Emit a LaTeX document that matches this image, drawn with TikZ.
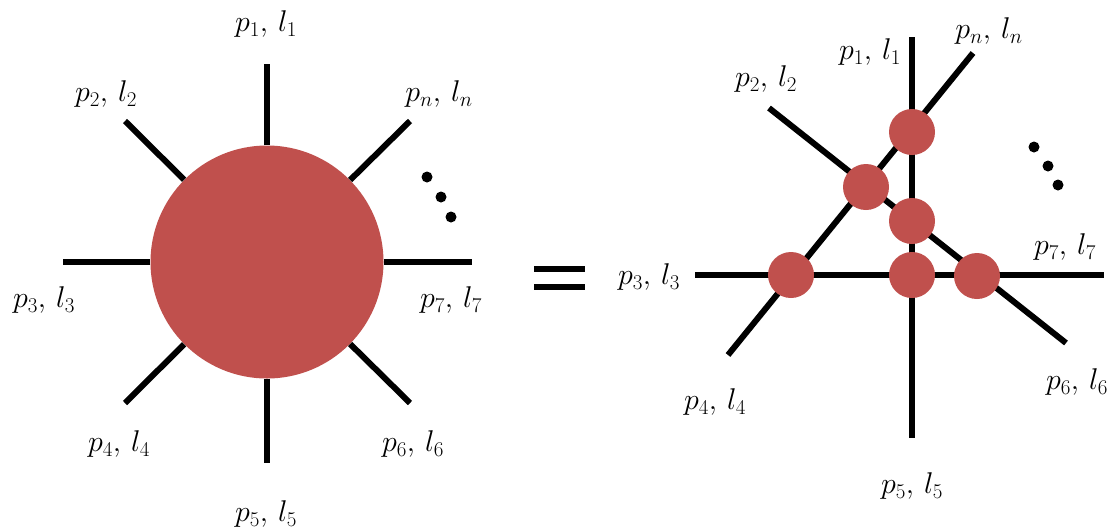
\RequirePackage{fix-cm}
\documentclass[tikz,border=0pt]{standalone}
\definecolor{blobred}{RGB}{192,80,77}
\tikzset{
  leg/.style={line width=6pt, black},
  eqbar/.style={line width=5.5pt, black},
  blob/.style={circle, fill=blobred, draw=none, inner sep=0pt, minimum size=#1},
  lbl/.style={font=\fontsize{30}{36}\selectfont, inner sep=0pt},
  dotmark/.style={circle, fill=black, inner sep=0pt, minimum size=11pt},
}
\newcommand{\pl}[2]{$p_{#1},\, l_{#2}$}
\begin{document}
\begin{tikzpicture}[x=1pt,y=-1pt]
\useasboundingbox (0,0) rectangle (1114,531);

% ---------- left diagram ----------
\node[blob=233pt] (B) at (267,262) {};
\coordinate (a1) at (267,64);
\coordinate (a5) at (267,463);
\coordinate (a3) at (63,262);
\coordinate (a7) at (472,262);
\coordinate (a2) at (125,121);
\coordinate (an) at (410,121);
\coordinate (a4) at (125,403);
\coordinate (a6) at (410,403);
\foreach \e in {a1,a2,a3,a4,a5,a6,a7,an} \draw[leg] (B) -- (\e);

\node[lbl] (L1) at (266,24) {\pl{1}{1}};
\node[lbl] (L2) at (106,94) {\pl{2}{2}};
\node[lbl] (Ln) at (439,94) {\pl{n}{n}};
\node[lbl] (L3) at (44,300) {\pl{3}{3}};
\node[lbl] (L7) at (451,300) {\pl{7}{7}};
\node[lbl] (L4) at (119,444) {\pl{4}{4}};
\node[lbl] (L6) at (413,444) {\pl{6}{6}};
\node[lbl] (L5) at (266,514) {\pl{5}{5}};

\node[dotmark] (d1) at (427,177) {};
\node[dotmark] (d2) at (441,197) {};
\node[dotmark] (d3) at (451,217) {};

% ---------- equals ----------
\coordinate (eqa) at (534,269);
\coordinate (eqb) at (585,269);
\coordinate (eqc) at (534,287);
\coordinate (eqd) at (585,287);
\draw[eqbar] (eqa) -- (eqb);
\draw[eqbar] (eqc) -- (eqd);

% ---------- right diagram ----------
\coordinate (r1) at (912,37);
\coordinate (r5) at (912,438);
\coordinate (r3) at (695,275);
\coordinate (r7) at (1104,275);
\coordinate (rn) at (973,53);
\coordinate (r4) at (728,355);
\coordinate (r2) at (769,108);
\coordinate (r6) at (1066,343);
\draw[leg] (r1) -- (r5);
\draw[leg] (r3) -- (r7);
\draw[leg] (rn) -- (r4);
\draw[leg] (r2) -- (r6);

\node[blob=46pt] (vT) at (912,132) {};
\node[blob=46pt] (vML) at (866,187) {};
\node[blob=46pt] (vM) at (912,221) {};
\node[blob=46pt] (vL) at (791,275) {};
\node[blob=46pt] (vB) at (912,275) {};
\node[blob=46pt] (vR) at (977,276) {};

\node[lbl] (R1) at (870,52) {\pl{1}{1}};
\node[lbl] (Rn) at (989,31) {\pl{n}{n}};
\node[lbl] (R2) at (766,79) {\pl{2}{2}};
\node[lbl] (R3) at (649,277) {\pl{3}{3}};
\node[lbl] (R7) at (1065,247) {\pl{7}{7}};
\node[lbl] (R4) at (715,402) {\pl{4}{4}};
\node[lbl] (R6) at (1077,382) {\pl{6}{6}};
\node[lbl] (R5) at (912,486) {\pl{5}{5}};

\node[dotmark] (e1) at (1034,147) {};
\node[dotmark] (e2) at (1048,166) {};
\node[dotmark] (e3) at (1058,185) {};
\end{tikzpicture}
\end{document}
